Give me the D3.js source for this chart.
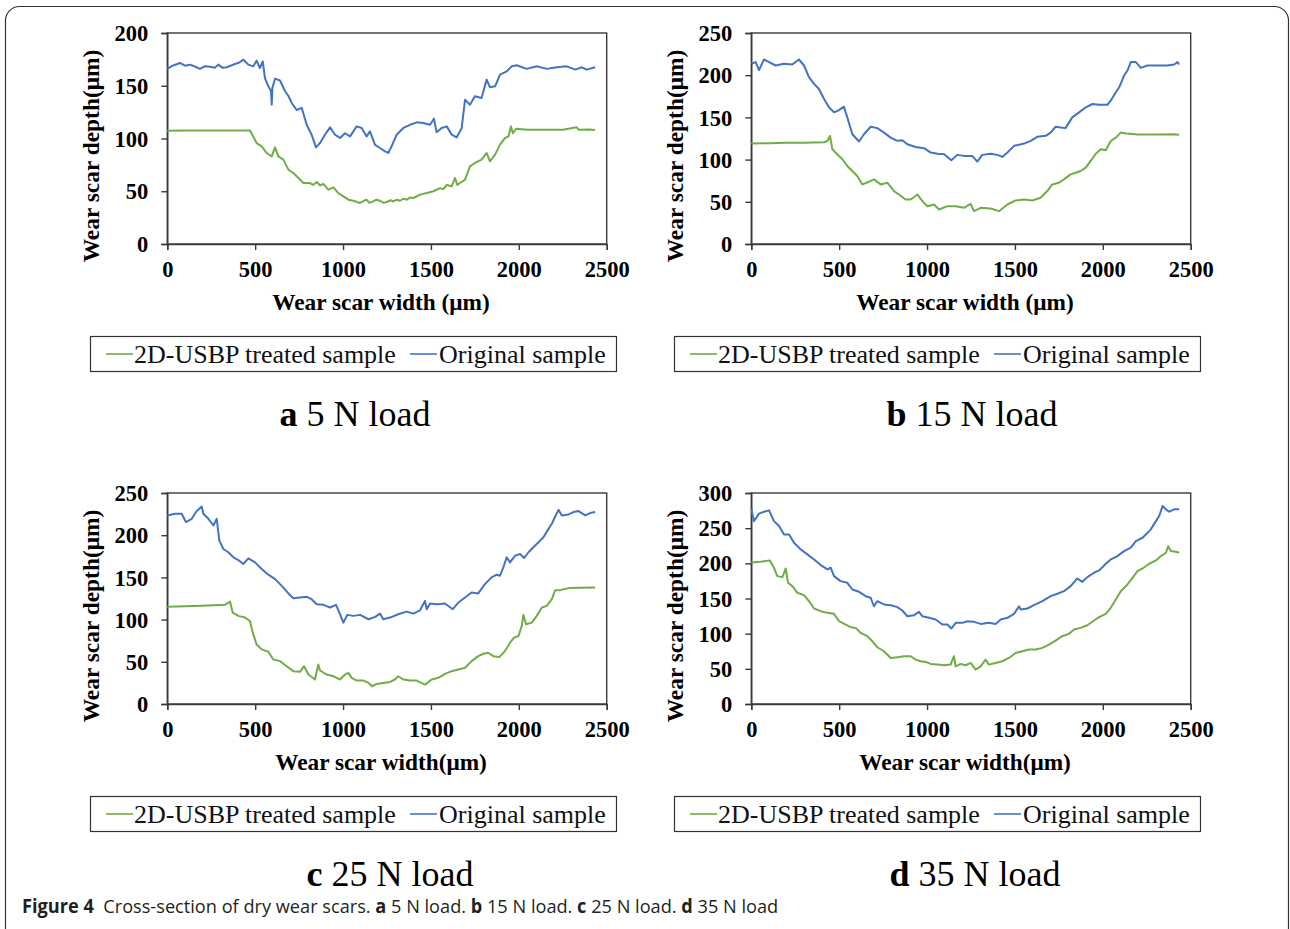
<!DOCTYPE html>
<html>
<head>
<meta charset="utf-8">
<script src="https://cdn.jsdelivr.net/npm/d3@7"></script>
<style>
  html, body { margin: 0; padding: 0; background: #fff; }
  svg { display: block; }
</style>
</head>
<body>
<svg id="fig" width="1290" height="929"></svg>
<script>
// Cross-section profiles of dry wear scars: [width (μm), depth (μm)] pairs.
const treated5N = [[0,107.4],[100,107.6],[200,107.5],[300,107.6],[400,107.5],[470,107.6],[489,102],[508,95.7],[537,92.6],[565,86.3],[594,83],[613,91.6],[632,83],[660,80],[689,70.5],[717,67.3],[746,62.6],[774,57.8],[812,57.8],[830,56],[850,58.8],[870,55.5],[888,57],[916,51.5],[945,53.7],[973,48.3],[1002,45.2],[1030,42],[1059,41],[1097,38.9],[1120,41],[1134,42],[1150,39],[1172,40.4],[1190,42],[1210,41],[1230,39],[1248,39.8],[1270,41.5],[1286,40.4],[1305,42],[1324,41],[1345,43],[1362,42],[1380,44],[1400,43.6],[1438,46.8],[1476,48.3],[1514,50],[1552,53],[1570,52],[1590,56],[1618,54.7],[1637,62.6],[1650,56],[1665,57.8],[1694,61],[1722,73.6],[1750,76.8],[1788,80],[1817,86.3],[1836,78.4],[1865,84.7],[1893,94.2],[1922,100.5],[1941,102],[1955,111.5],[1966,105],[1985,109.3],[2050,108.2],[2150,108.4],[2250,108.3],[2330,110.6],[2340,108.4],[2400,108.6],[2434,108]];
const original5N = [[0,166],[30,169],[72,171.6],[100,169],[129,170],[160,168],[186,166],[215,168.5],[243,168],[270,167],[290,170],[315,167],[338,167.5],[360,169],[385,170.6],[410,172],[433,174.7],[461,170],[489,168.4],[508,173.8],[527,166.8],[543,173],[556,157],[575,149.5],[590,145],[594,132],[598,148],[613,156.7],[641,155],[670,145],[690,140],[708,133.7],[736,127],[765,129],[793,113],[821,103.6],[846,91.6],[869,95.7],[897,103.6],[926,110.6],[954,103.6],[983,100.5],[1011,105],[1040,102],[1077,111.5],[1106,110],[1134,102],[1153,106.8],[1182,94],[1210,91],[1239,87.8],[1257,86.3],[1276,92.6],[1305,103.6],[1343,110],[1381,113],[1419,115.3],[1457,114.7],[1495,113],[1517,118.8],[1532,106],[1561,110],[1590,111.5],[1618,103.6],[1646,101],[1675,110],[1694,136.8],[1722,132],[1750,140],[1788,138.4],[1817,155.8],[1836,148.5],[1865,149.5],[1893,160.5],[1931,163.7],[1960,168.4],[1988,169.4],[2045,166],[2102,168.4],[2159,166],[2216,167.5],[2273,168.4],[2321,165.3],[2359,167.5],[2386,165.3],[2434,167.5]];

const treated15N = [[0,119],[100,119.5],[200,120],[300,120],[414,120.6],[433,122],[448,128],[461,112.3],[489,106.3],[518,100.4],[546,92.5],[575,86.5],[603,80.5],[632,70.6],[670,73.8],[698,76.6],[736,70.6],[774,72.6],[812,62.7],[840,58.7],[878,52.8],[907,52.8],[945,58.7],[973,50.8],[1002,44.8],[1040,46.8],[1068,40.9],[1116,44.8],[1163,44.8],[1210,42.9],[1248,47.6],[1267,38.9],[1305,42.9],[1362,42],[1409,38.9],[1457,46.8],[1504,51.6],[1552,52.8],[1599,51.6],[1646,54.8],[1684,62.7],[1712,70.6],[1750,72.6],[1779,76.6],[1817,82.5],[1846,84.5],[1874,86.5],[1903,90.5],[1931,98.4],[1960,107],[1988,112.3],[2017,111],[2045,122],[2074,126],[2102,132],[2131,131],[2200,129.8],[2300,129.6],[2400,130],[2434,129.4]];
const original15N = [[0,213.5],[25,215.5],[44,206],[72,218.6],[101,215.5],[139,211.5],[186,213.5],[233,212.7],[271,218.6],[300,211.5],[328,197.6],[357,189.7],[385,183.7],[414,171.8],[442,162],[471,156],[499,158.7],[527,162.7],[546,150],[575,130],[613,121.4],[641,130],[679,138.9],[717,137.3],[755,132],[793,126],[831,122.2],[859,123],[888,118.2],[935,115],[983,113.5],[1021,108.3],[1059,107],[1097,106.3],[1138,99.2],[1172,105.6],[1210,104.4],[1257,104.4],[1286,97.6],[1314,105.6],[1362,107],[1400,105.6],[1428,103.2],[1457,108.3],[1495,116.3],[1552,119],[1590,122.2],[1627,127],[1675,128.2],[1703,132],[1731,138.9],[1760,138],[1788,137.3],[1826,150],[1865,156],[1903,162],[1941,165.9],[1979,165],[2026,165],[2045,169.8],[2074,179.8],[2093,185.7],[2121,199.6],[2140,205.5],[2159,215.5],[2188,215.5],[2216,208.7],[2254,211.5],[2311,211.5],[2368,211.5],[2406,212.7],[2425,215.5],[2434,212.7]];

const treated25N = [[0,115.1],[100,115.8],[200,116.5],[328,117.5],[357,121.4],[372,108.3],[404,104.4],[442,102.4],[470,98.4],[489,82.5],[508,70.6],[537,64.7],[575,61.9],[603,52.8],[641,50.8],[679,44.8],[717,38.9],[755,38.1],[778,44.8],[803,34.9],[840,29],[859,46.8],[869,39.7],[907,34.9],[945,32.9],[983,29],[1011,34.9],[1030,36.9],[1049,31],[1078,27.8],[1116,27.8],[1145,25],[1164,21],[1192,23.8],[1229,25],[1267,26.2],[1295,29],[1314,32.9],[1343,29],[1381,27.8],[1419,27.8],[1466,23],[1504,29],[1542,31],[1580,35.7],[1618,38.9],[1656,40.9],[1694,42.9],[1731,50.8],[1769,56.7],[1798,59.5],[1826,60.7],[1855,56.7],[1889,55.6],[1921,62.7],[1950,72.6],[1973,78.6],[1998,80.6],[2017,92.5],[2026,105.6],[2041,94.4],[2074,96.4],[2102,104.4],[2131,114.3],[2159,116.3],[2188,124.2],[2207,134.9],[2235,134.9],[2283,137.3],[2350,137.6],[2434,138]];
const original25N = [[0,223.4],[44,225.4],[82,225.4],[106,215.5],[139,219.4],[167,228.6],[196,234],[205,225.4],[234,219.4],[262,211.5],[281,219.4],[296,193.6],[319,183.7],[347,179.8],[376,173.8],[404,170.6],[432,165.9],[461,172.6],[499,167.8],[537,160],[575,153.2],[613,148],[651,140],[689,131],[717,125.4],[755,126.2],[793,127],[821,124.2],[850,118.2],[888,117.5],[926,114.3],[960,117.5],[983,106.3],[1002,96.4],[1024,105.6],[1059,104.4],[1097,105.6],[1145,100.4],[1183,103.2],[1210,107.1],[1229,100.4],[1267,102.4],[1314,106.3],[1362,109.5],[1400,107.1],[1438,111],[1466,122.2],[1476,112.3],[1495,119],[1533,118.2],[1580,119],[1624,112.3],[1656,120.2],[1694,126.2],[1731,132.1],[1769,131],[1807,142],[1845,150],[1874,153.2],[1893,152],[1912,162],[1931,173.8],[1950,167.8],[1979,175.8],[2007,177.8],[2030,173],[2055,179.8],[2083,185.7],[2112,191.7],[2140,197.6],[2169,207.5],[2188,213.5],[2207,222.2],[2226,230],[2245,223.4],[2283,224.6],[2311,227.4],[2340,228.6],[2378,223.4],[2406,226.2],[2434,227.4]];

const treated35N = [[0,201.3],[53,202.2],[106,204.1],[129,193.7],[148,181.8],[177,180.4],[196,192.7],[209,172.3],[234,167.6],[262,158.1],[300,154.8],[328,146.2],[357,135.8],[395,132],[433,129.6],[471,128.2],[499,117.7],[537,113],[565,109.2],[594,108.2],[622,101.1],[660,96.4],[689,89.2],[717,80.7],[755,75],[793,65.5],[831,66.5],[869,67.9],[907,67.9],[935,63.1],[964,60.8],[992,59.8],[1021,57],[1059,56],[1097,55.1],[1134,56],[1153,67.9],[1163,53.6],[1191,57],[1220,55.1],[1248,58.4],[1276,48.9],[1305,53.6],[1333,63.1],[1352,56],[1390,58.4],[1428,60.8],[1466,65.5],[1504,72.6],[1542,75],[1580,77.4],[1618,77.4],[1656,79.8],[1694,84.5],[1731,90.2],[1769,96.4],[1807,99.7],[1836,105.9],[1874,108.2],[1912,112],[1950,118.7],[1979,123.4],[2017,128.2],[2045,136.7],[2074,148.6],[2102,160.4],[2140,169.9],[2169,179.4],[2197,188.9],[2226,192.7],[2264,199.4],[2302,204.1],[2330,210.3],[2359,215.1],[2372,224.5],[2387,217.4],[2415,216.5],[2434,215.1]];
const original35N = [[0,278.2],[15,260],[44,270.6],[72,273.4],[101,275.3],[129,260],[158,253],[186,241.1],[215,241.1],[243,229.3],[281,219.8],[319,212.7],[357,205.5],[395,197.5],[433,191.3],[452,193.7],[471,181.8],[508,174.7],[546,172.3],[575,162.8],[613,159.5],[651,153.3],[679,151],[698,139],[717,146.2],[755,141.5],[793,140.5],[831,137.7],[859,132.9],[888,124.8],[926,126.3],[954,131],[973,124.8],[1011,122.5],[1049,120.1],[1087,113],[1116,113],[1138,107.3],[1163,115.4],[1201,115.4],[1229,117.7],[1267,116.8],[1305,113.9],[1352,115.4],[1390,113.9],[1419,120.1],[1457,122.5],[1495,128.2],[1523,139],[1533,134.3],[1571,135.8],[1608,140.5],[1656,146.2],[1703,153.3],[1741,156.7],[1779,160.4],[1817,167.6],[1855,178.5],[1883,173.7],[1912,180.4],[1950,186.6],[1979,189.9],[2017,199.4],[2045,205.5],[2083,210.3],[2121,217.4],[2159,222.2],[2188,231.7],[2226,236.4],[2245,241.1],[2273,248.3],[2302,260],[2321,267.3],[2340,281.5],[2359,276.8],[2378,273.4],[2406,276.8],[2434,276.8]];

const xTicks = [0, 500, 1000, 1500, 2000, 2500];
const yTicksA = [0, 50, 100, 150, 200];
const yTicksB = [0, 50, 100, 150, 200, 250];
const yTicksD = [0, 50, 100, 150, 200, 250, 300];

const seriesNames = ["2D-USBP treated sample", "Original sample"];
const seriesColors = ["#70AD47", "#4472C4"];

const panels = [
  { letter: "a", load: "5 N load",  yMax: 200, yTicks: yTicksA, xTitle: "Wear scar width (μm)", data: [treated5N, original5N],  dx: 0,   dy: 0,   labelX: 355 },
  { letter: "b", load: "15 N load", yMax: 250, yTicks: yTicksB, xTitle: "Wear scar width (μm)", data: [treated15N, original15N], dx: 584, dy: 0,   labelX: 972 - 584 },
  { letter: "c", load: "25 N load", yMax: 250, yTicks: yTicksB, xTitle: "Wear scar width(μm)",  data: [treated25N, original25N], dx: 0,   dy: 460, labelX: 390 },
  { letter: "d", load: "35 N load", yMax: 300, yTicks: yTicksD, xTitle: "Wear scar width(μm)",  data: [treated35N, original35N], dx: 584, dy: 460, labelX: 975 - 584 }
];

const svg = d3.select("#fig");
svg.append("rect").attr("width", 1290).attr("height", 929).attr("fill", "#fff");

// Rounded outer frame of the figure
svg.append("rect")
  .attr("x", 5.5).attr("y", 6.5).attr("width", 1283).attr("height", 940)
  .attr("rx", 14).attr("ry", 14)
  .attr("fill", "none").attr("stroke", "#333").attr("stroke-width", 1.2);

const plotL = 167.3, plotR = 606.7, plotT = 33, plotB = 244;
const serif = "'Liberation Serif', 'Times New Roman', serif";

panels.forEach(p => {
  const g = svg.append("g").attr("transform", `translate(${p.dx},${p.dy})`);
  const x = d3.scaleLinear().domain([0, 2500]).range([plotL, plotR]);
  const y = d3.scaleLinear().domain([0, p.yMax]).range([plotB, plotT]);

  // plot frame
  g.append("rect")
    .attr("x", plotL).attr("y", plotT)
    .attr("width", plotR - plotL).attr("height", plotB - plotT)
    .attr("fill", "none").attr("stroke", "#3a3a3a").attr("stroke-width", 1.4);

  const xAxis = g.append("g").attr("transform", `translate(0,${plotB})`)
    .call(d3.axisBottom(x).tickValues(xTicks).tickSize(6).tickPadding(11).tickFormat(d3.format("d")));
  const yAxis = g.append("g").attr("transform", `translate(${plotL},0)`)
    .call(d3.axisLeft(y).tickValues(p.yTicks).tickSize(6).tickPadding(13).tickFormat(d3.format("d")));
  [xAxis, yAxis].forEach(ax => {
    ax.select(".domain").attr("stroke", "#3a3a3a").attr("stroke-width", 1.4);
    ax.selectAll(".tick line").attr("stroke", "#3a3a3a").attr("stroke-width", 1.4);
    ax.selectAll(".tick text")
      .attr("font-family", serif).attr("font-weight", "bold")
      .attr("font-size", 22.5).attr("fill", "#000");
  });
  yAxis.selectAll(".tick text").attr("dy", "0.34em");

  // curves
  const line = d3.line().x(d => x(d[0])).y(d => y(d[1]));
  p.data.forEach((s, i) => {
    g.append("path").datum(s)
      .attr("d", line)
      .attr("fill", "none")
      .attr("stroke", seriesColors[i])
      .attr("stroke-width", 2)
      .attr("stroke-linejoin", "round");
  });

  // axis titles
  g.append("text")
    .attr("x", (plotL + plotR) / 2 - 6).attr("y", 310)
    .attr("text-anchor", "middle")
    .attr("font-family", serif).attr("font-weight", "bold").attr("font-size", 23.3)
    .text(p.xTitle);
  g.append("text")
    .attr("transform", `translate(99,${(plotT + plotB) / 2 + 17.5}) rotate(-90)`)
    .attr("text-anchor", "middle")
    .attr("font-family", serif).attr("font-weight", "bold").attr("font-size", 23.4)
    .text("Wear scar depth(μm)");

  // legend
  const lg = g.append("g");
  lg.append("rect")
    .attr("x", 90.5).attr("y", 336.5).attr("width", 526).attr("height", 35)
    .attr("fill", "#fff").attr("stroke", "#333").attr("stroke-width", 1.2);
  const items = [{ lx: 106, tx: 134 }, { lx: 410, tx: 439 }];
  items.forEach((it, i) => {
    lg.append("line")
      .attr("x1", it.lx).attr("x2", it.lx + 27).attr("y1", 354).attr("y2", 354)
      .attr("stroke", seriesColors[i]).attr("stroke-width", 1.6);
    lg.append("text")
      .attr("x", it.tx).attr("y", 363)
      .attr("font-family", serif).attr("font-size", 26).attr("fill", "#111")
      .text(seriesNames[i]);
  });

  // panel label
  const lab = g.append("text")
    .attr("x", p.labelX).attr("y", 426)
    .attr("text-anchor", "middle")
    .attr("font-family", serif).attr("font-size", 36).attr("fill", "#000");
  lab.append("tspan").attr("font-weight", "bold").text(p.letter);
  lab.append("tspan").text(" " + p.load);
});

// figure caption, condensed horizontally to its column width
const capG = svg.append("g");
const cap = capG.append("text")
  .attr("x", 0).attr("y", 0)
  .attr("font-family", "'Open Sans', 'Noto Sans', sans-serif")
  .attr("font-size", 19).attr("fill", "#231f20")
  .attr("xml:space", "preserve");
const capParts = [
  ["Figure 4", true], ["  Cross-section of dry wear scars. ", false],
  ["a", true], [" 5 N load. ", false], ["b", true], [" 15 N load. ", false],
  ["c", true], [" 25 N load. ", false], ["d", true], [" 35 N load", false]
];
capParts.forEach(([t, b]) => {
  cap.append("tspan").attr("font-weight", b ? "bold" : "normal").text(t);
});
const capW = cap.node().getComputedTextLength();
capG.attr("transform", `translate(22,913) scale(${757 / capW},1)`);
</script>
</body>
</html>
